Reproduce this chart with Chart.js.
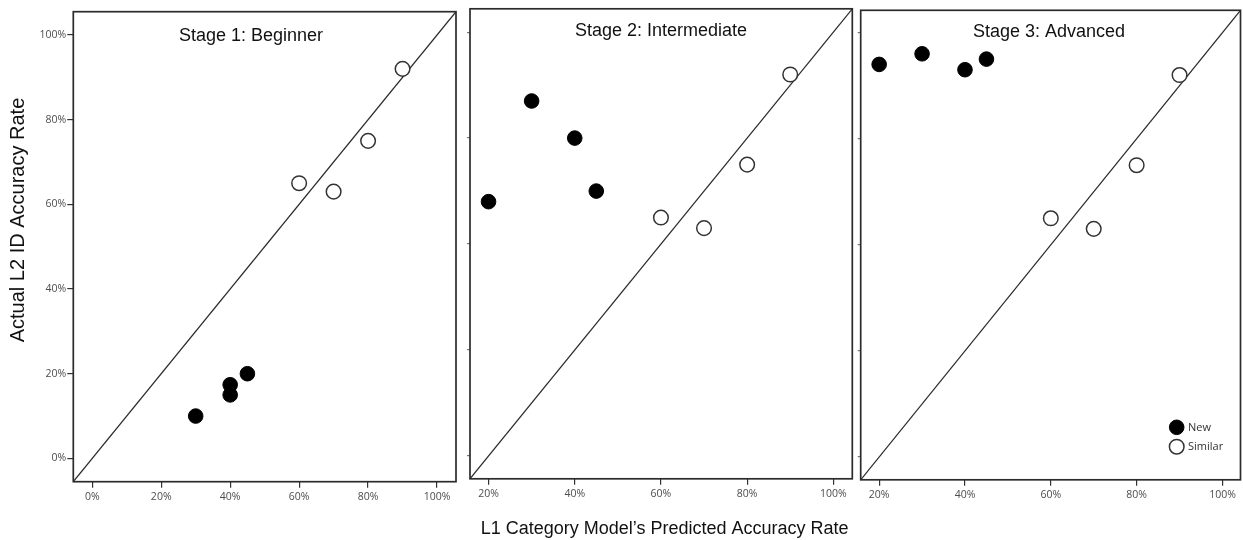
<!DOCTYPE html>
<html>
<head>
<meta charset="utf-8">
<script src="https://cdn.jsdelivr.net/npm/chart.js@4.4.1/dist/chart.umd.min.js"></script>
<style>
  html, body { margin: 0; padding: 0; background: #ffffff; overflow: hidden; }
  #wrap { position: relative; width: 1243px; height: 540px; background: #ffffff; overflow: hidden; }
  #wrap canvas { position: absolute; top: 0; }
</style>
</head>
<body>
<div id="wrap">
  <canvas id="c1"></canvas>
  <canvas id="c2"></canvas>
  <canvas id="c3"></canvas>
</div>
<script>
// ---------------- DATA ----------------
const seriesNames = ['New', 'Similar'];
const stageTitles = ['Stage 1: Beginner', 'Stage 2: Intermediate', 'Stage 3: Advanced'];
const yAxisTitle = 'Actual L2 ID Accuracy Rate';
const xAxisTitle = 'L1 Category Model\u2019s Predicted Accuracy Rate';

// x = L1 category model's predicted accuracy (%), y = actual L2 ID accuracy (%)
const stage1NewX = [30, 40, 40, 45];
const stage1NewY = [10, 17.4, 15, 20];
const stage1SimilarX = [60, 70, 80, 90];
const stage1SimilarY = [65, 63, 75, 92];

const stage2NewX = [20, 30, 40, 45];
const stage2NewY = [68, 87, 80, 70];
const stage2SimilarX = [60, 70, 80, 90];
const stage2SimilarY = [65, 63, 75, 92];

const stage3NewX = [20, 30, 40, 45];
const stage3NewY = [94, 96, 93, 95];
const stage3SimilarX = [60, 70, 80, 90];
const stage3SimilarY = [65, 63, 75, 92];

const stage1Ticks = [0, 20, 40, 60, 80, 100];
const stage23Ticks = [20, 40, 60, 80, 100];
const stage1Range = [-5.5, 105.5];
const stage2Range = [15.7, 104.4];
const stage3Range = [15.7, 104.2];

// ---------------- HELPERS ----------------
const zip = (xs, ys) => xs.map((x, i) => ({ x: x, y: ys[i] }));
const H = 540;
const RIGHT_PAD = 11;
const tickFont = { family: "'Open Sans', 'DejaVu Sans', sans-serif", size: 10.5 };
const tickColor = '#4d4d4d';
const titleFamily = "'Liberation Sans', Arial, sans-serif";

const framePlugin = {
  id: 'frame',
  afterDraw(chart) {
    const a = chart.chartArea, ctx = chart.ctx;
    ctx.save();
    ctx.strokeStyle = '#2b2b2b';
    ctx.lineWidth = 1.7;
    ctx.strokeRect(a.left, a.top, a.right - a.left, a.bottom - a.top);
    ctx.restore();
  }
};

const textPlugin = {
  id: 'texts',
  afterDraw(chart, args, opts) {
    const ctx = chart.ctx;
    (opts.items || []).forEach(it => {
      ctx.save();
      ctx.font = it.font;
      ctx.fillStyle = it.color || '#111';
      ctx.textAlign = it.align || 'center';
      ctx.textBaseline = it.baseline || 'alphabetic';
      ctx.translate(it.x, it.y);
      if (it.rotate) ctx.rotate(it.rotate);
      ctx.fillText(it.text, 0, 0);
      ctx.restore();
    });
  }
};

const legendPlugin = {
  id: 'innerLegend',
  afterDraw(chart, args, opts) {
    if (!opts.show) return;
    const ctx = chart.ctx, a = chart.chartArea;
    seriesNames.forEach((name, i) => {
      const ds = chart.data.datasets.find(d => d.label === name);
      if (!ds) return;
      const cx = a.right + opts.dx;
      const cy = a.bottom + opts.dy + i * opts.gap;
      ctx.save();
      ctx.beginPath();
      ctx.arc(cx, cy, opts.r, 0, Math.PI * 2);
      ctx.fillStyle = ds.backgroundColor;
      ctx.fill();
      ctx.lineWidth = ds.borderWidth;
      ctx.strokeStyle = ds.borderColor;
      ctx.stroke();
      ctx.font = opts.font;
      ctx.fillStyle = '#333';
      ctx.textAlign = 'left';
      ctx.textBaseline = 'middle';
      ctx.fillText(ds.label, cx + opts.r + 4, cy + 0.5);
      ctx.restore();
    });
  }
};

function makePanel(id, p) {
  const cv = document.getElementById(id);
  const width = Math.ceil(p.areaRight - p.left + RIGHT_PAD);
  cv.width = width; cv.height = H;
  cv.style.left = p.left + 'px';
  cv.style.width = width + 'px';
  cv.style.height = H + 'px';
  const xAxisH = 40;
  const yAxisW = p.areaLeft - p.left;
  const datasets = [
    {
      label: 'identity',
      data: [{ x: p.range[0], y: p.range[0] }, { x: p.range[1], y: p.range[1] }],
      showLine: true, borderColor: '#2a2a2a', borderWidth: 1.2,
      pointRadius: 0, order: 3
    },
    {
      label: seriesNames[1],
      data: zip(p.simX, p.simY),
      backgroundColor: '#ffffff', borderColor: '#333333', borderWidth: 1.5,
      pointRadius: 7.3, order: 2
    },
    {
      label: seriesNames[0],
      data: zip(p.newX, p.newY),
      backgroundColor: '#000000', borderColor: '#000000', borderWidth: 1,
      pointRadius: 7.3, order: 1
    }
  ];
  return new Chart(cv, {
    type: 'scatter',
    data: { datasets },
    plugins: [framePlugin, textPlugin, legendPlugin],
    options: {
      responsive: false,
      animation: false,
      events: [],
      layout: {
        padding: {
          left: 0,
          right: p.left + width - p.areaRight,
          top: p.areaTop,
          bottom: H - p.areaBottom - xAxisH
        }
      },
      plugins: {
        legend: { display: false },
        tooltip: { enabled: false },
        texts: { items: p.texts.map(t => Object.assign({}, t, { x: t.x - p.left })) },
        innerLegend: p.legend || { show: false }
      },
      scales: {
        x: {
          type: 'linear', min: p.range[0], max: p.range[1],
          afterBuildTicks: s => { s.ticks = p.ticks.map(v => ({ value: v })); },
          afterFit: s => { s.height = xAxisH; s.paddingLeft = 0; s.paddingRight = 0; },
          border: { display: false },
          grid: { drawOnChartArea: false, drawTicks: true, tickLength: 6, color: '#333', lineWidth: 1.2 },
          ticks: { autoSkip: false, maxRotation: 0, padding: 3, font: tickFont, color: tickColor,
                   callback: v => v + '%' }
        },
        y: {
          type: 'linear', min: p.range[0], max: p.range[1],
          afterBuildTicks: s => { s.ticks = p.ticks.map(v => ({ value: v })); },
          afterFit: s => { s.width = yAxisW; s.paddingTop = 0; s.paddingBottom = 0; },
          border: { display: false },
          grid: { drawOnChartArea: false, drawTicks: true,
                  tickLength: p.yLabels ? 6 : 3, color: p.yLabels ? '#333' : '#777', lineWidth: 1.2 },
          ticks: { display: p.yLabels, autoSkip: false, padding: 1, font: tickFont, color: tickColor,
                   callback: v => v + '%' }
        }
      }
    }
  });
}

const panelTitleFont = '18px ' + titleFamily;
const axisTitleFont = '18px ' + titleFamily;

makePanel('c1', {
  left: 0, areaLeft: 73.3, areaRight: 456, areaTop: 11.7, areaBottom: 481.7,
  range: stage1Range, ticks: stage1Ticks, yLabels: true,
  newX: stage1NewX, newY: stage1NewY, simX: stage1SimilarX, simY: stage1SimilarY,
  texts: [
    { text: stageTitles[0], x: 251, y: 40.5, font: panelTitleFont, color: '#111' },
    { text: yAxisTitle, x: 23.5, y: 220, font: '20px ' + titleFamily, color: '#111', rotate: -Math.PI / 2 }
  ]
});

makePanel('c2', {
  left: 460, areaLeft: 470, areaRight: 852.3, areaTop: 8.3, areaBottom: 478.8,
  range: stage2Range, ticks: stage23Ticks, yLabels: false,
  newX: stage2NewX, newY: stage2NewY, simX: stage2SimilarX, simY: stage2SimilarY,
  texts: [
    { text: stageTitles[1], x: 661, y: 35.5, font: panelTitleFont, color: '#111' },
    { text: xAxisTitle, x: 664.7, y: 534, font: axisTitleFont, color: '#111' }
  ]
});

makePanel('c3', {
  left: 850, areaLeft: 860.7, areaRight: 1240.5, areaTop: 10.3, areaBottom: 479.8,
  range: stage3Range, ticks: stage23Ticks, yLabels: false,
  newX: stage3NewX, newY: stage3NewY, simX: stage3SimilarX, simY: stage3SimilarY,
  texts: [
    { text: stageTitles[2], x: 1049, y: 36.5, font: panelTitleFont, color: '#111' }
  ],
  legend: { show: true, dx: -63.8, dy: -52.5, gap: 19.4, r: 7.3,
            font: "11px 'Open Sans', 'DejaVu Sans', sans-serif" }
});
</script>
</body>
</html>
